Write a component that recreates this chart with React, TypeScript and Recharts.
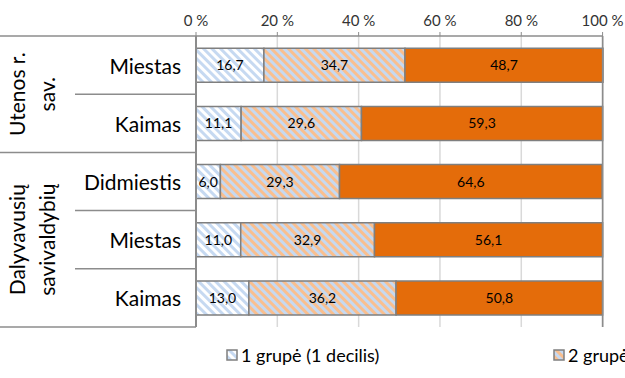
import React from 'react';
import { BarChart, Bar, XAxis, YAxis, CartesianGrid, LabelList, ReferenceLine } from 'recharts';

// rows top to bottom
const categories = ['Miestas', 'Kaimas', 'Didmiestis', 'Miestas', 'Kaimas'];
const grupe1 = [16.7, 11.1, 6.0, 11.0, 13.0];
const grupe2 = [34.7, 29.6, 29.3, 32.9, 36.2];
const grupe3 = [48.7, 59.3, 64.6, 56.1, 50.8];
const seriesNames = ['1 grupė (1 decilis)', '2 grupė', '3 grupė'];
const groupLabels = [['Utenos r.', 'sav.'], ['Dalyvavusių', 'savivaldybių']];
const groupStart = [0, 2];
const groupSize = [2, 3];
const xTicks = [0, 20, 40, 60, 80, 100];

const W = 625;
const H = 378;
const TOP = 36;
const BOTTOM = 51;
const STEP = (H - TOP - BOTTOM) / categories.length;
const FONT = 'Lato, "Open Sans", sans-serif';
const AXIS = '#8c8c8c';

const data = categories.map((c, i) => ({
  id: 'r' + i,
  name: c,
  g1: grupe1[i],
  g2: grupe2[i],
  g3: grupe3[i],
}));

const fmt = (v: any) => Number(v).toFixed(1).replace('.', ',');

const CategoryTick = (props: any) => {
  const { y, index } = props;
  const top = y - STEP / 2;
  const g = groupStart.indexOf(index);
  const isLast = index === categories.length - 1;
  return (
    <g>
      <line x1={g >= 0 ? 0 : 75} x2={196} y1={top} y2={top} stroke={AXIS} strokeWidth={1.5} />
      {isLast && <line x1={0} x2={196} y1={y + STEP / 2} y2={y + STEP / 2} stroke={AXIS} strokeWidth={1.5} />}
      <text x={181} y={y} textAnchor="end" dominantBaseline="central" fontSize={21} fontFamily={FONT} fill="#000">
        {categories[index]}
      </text>
      {g >= 0 &&
        groupLabels[g].map((t, k) => {
          const gy = y + ((groupSize[g] - 1) * STEP) / 2;
          const gx = 17 + k * 30;
          return (
            <text
              key={k}
              x={gx}
              y={gy}
              transform={`rotate(-90, ${gx}, ${gy})`}
              textAnchor="middle"
              dominantBaseline="central"
              fontSize={21}
              fontFamily={FONT}
              fill="#000"
            >
              {t}
            </text>
          );
        })}
    </g>
  );
};

const Patterns = () => (
  <defs>
    <pattern id="pat1" width="6" height="6" patternUnits="userSpaceOnUse" patternTransform="rotate(-45)">
      <rect width="6" height="6" fill="#ffffff" />
      <rect width="3" height="6" fill="#c6d9f1" />
    </pattern>
    <pattern id="pat2" width="6" height="6" patternUnits="userSpaceOnUse" patternTransform="rotate(-45)">
      <rect width="6" height="6" fill="#c6d9f1" />
      <rect width="3" height="6" fill="#f9bf8f" />
    </pattern>
  </defs>
);

const fills = ['url(#pat1)', 'url(#pat2)', '#e46c0a'];

export default function App() {
  return (
    <div style={{ position: 'absolute', left: 0, top: 0, width: W, height: H, background: '#fff', overflow: 'hidden' }}>
      <BarChart
        width={W}
        height={H}
        data={data}
        layout="vertical"
        margin={{ top: 0, right: 22, bottom: BOTTOM, left: 0 }}
        barCategoryGap="21%"
      >
        <Patterns />
        <CartesianGrid horizontal={false} stroke="#d9d9d9" strokeWidth={1.5} />
        <XAxis
          type="number"
          orientation="top"
          domain={[0, 100]}
          ticks={xTicks}
          height={TOP}
          tickFormatter={(v: number) => `${v} %`}
          tick={{ fontSize: 15, fontFamily: FONT, fill: '#333' }}
          tickSize={4}
          tickMargin={6}
          tickLine={{ stroke: AXIS }}
          axisLine={{ stroke: AXIS, strokeWidth: 1.5 }}
        />
        <YAxis
          type="category"
          dataKey="id"
          width={196}
          tick={<CategoryTick />}
          tickLine={false}
          axisLine={{ stroke: AXIS, strokeWidth: 2 }}
          interval={0}
        />
        <ReferenceLine x={100} stroke={AXIS} strokeWidth={1.5} />
        {['g1', 'g2', 'g3'].map((k, i) => (
          <Bar
            key={k}
            dataKey={k}
            name={seriesNames[i]}
            stackId="a"
            fill={fills[i]}
            stroke="#7f7f7f"
            strokeWidth={1.5}
            isAnimationActive={false}
          >
            <LabelList
              dataKey={k}
              position="center"
              formatter={fmt}
              style={{ fontSize: 14, fontFamily: FONT, fill: '#000' }}
            />
          </Bar>
        ))}
      </BarChart>
      {seriesNames.map((s, i) => (
        <div
          key={s}
          style={{
            position: 'absolute',
            left: 226 + i * 327,
            top: 344,
            display: 'flex',
            alignItems: 'center',
            whiteSpace: 'nowrap',
            fontFamily: FONT,
            fontSize: 18,
            color: '#000',
          }}
        >
          <svg width={12} height={12} style={{ marginRight: 3 }}>
            <rect x={1} y={1} width={10} height={10} fill={fills[i]} stroke="#7f7f7f" strokeWidth={1.5} />
          </svg>
          {s}
        </div>
      ))}
    </div>
  );
}
